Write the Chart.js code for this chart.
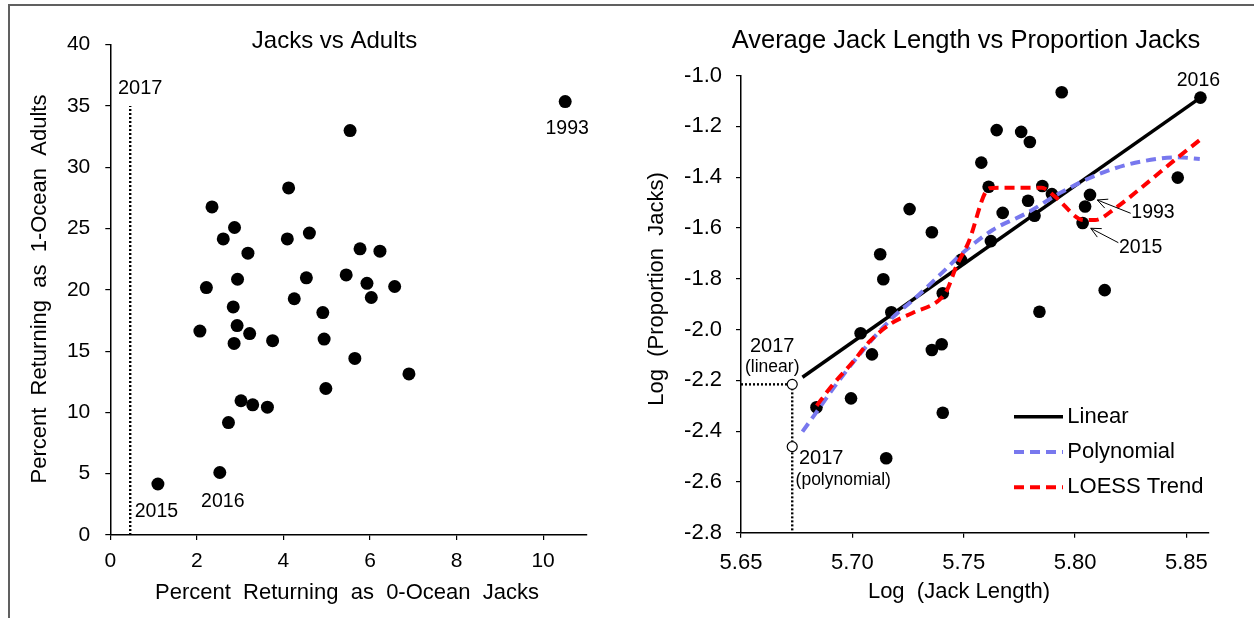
<!DOCTYPE html>
<html>
<head>
<meta charset="utf-8">
<script src="https://cdn.jsdelivr.net/npm/chart.js@4.4.1/dist/chart.umd.min.js"></script>
<style>
  html, body { margin: 0; padding: 0; background: #fff; }
  #wrap { position: relative; width: 1254px; height: 618px; overflow: hidden; }
  #frame { position: absolute; left: 8px; top: 4px; width: 1300px; height: 700px;
           border-left: 2px solid #606060; border-top: 2px solid #606060; }
  canvas { position: absolute; top: 0; }
  #cLeft { left: 0; }
  #cRight { left: 627px; }
</style>
</head>
<body>
<div id="wrap">
  <div id="frame"></div>
  <canvas id="cLeft" width="627" height="618"></canvas>
  <canvas id="cRight" width="627" height="618"></canvas>
</div>
<script>
const FONT = "'Liberation Sans', Arial, sans-serif";

// ---- Jacks vs Adults ----
const jackPct  = [10.51, 5.54, 4.12, 2.35, 2.87, 2.61, 4.09, 4.60, 3.18, 5.77, 6.23, 2.22, 2.94, 4.53, 5.45, 5.93, 6.57, 4.25,
                  6.03, 2.84, 4.91, 2.07, 2.93, 3.22, 2.86, 3.75, 4.94, 5.65, 6.90, 4.98, 3.02, 3.29, 3.63, 2.73, 2.53, 1.10];
const adultPct = [35.35, 32.99, 28.31, 26.76, 25.08, 24.15, 24.15, 24.63, 22.99, 23.34, 23.15, 20.18, 20.86, 20.98, 21.21, 20.53, 20.27, 19.27,
                  19.37, 18.60, 18.14, 16.63, 17.08, 16.43, 15.63, 15.85, 15.98, 14.40, 13.14, 11.95, 10.95, 10.62, 10.43, 9.17, 5.10, 4.16];
const leftXTicks = [0, 2, 4, 6, 8, 10];
const leftYTicks = [0, 5, 10, 15, 20, 25, 30, 35, 40];
const jack2017 = 0.46;          // 2017 forecast line
const jack2017Span = [0, 35];
const leftYears = ["1993", "2015", "2016"];
const leftYearIdx = [0, 35, 34];

// ---- Average Jack Length vs Proportion Jacks ----
const logLen  = [5.7257, 5.7357, 5.7125, 5.7139, 5.7488, 5.7406, 5.7940, 5.7648, 5.7758, 5.7797, 5.7579, 5.7612, 5.7853, 5.7896,
                 5.7789, 5.7675, 5.7818, 5.8067, 5.8045, 5.8034, 5.7622, 5.8461, 5.8563, 5.8133, 5.7175, 5.7037, 5.7088, 5.7357,
                 5.7401, 5.6994, 5.6839, 5.7406, 5.7152, 5.7840];
const logProp = [-1.526, -1.617, -1.704, -1.802, -1.726, -1.857, -1.066, -1.215, -1.222, -1.262, -1.343, -1.438, -1.435, -1.467,
                 -1.493, -1.541, -1.552, -1.470, -1.516, -1.581, -1.652, -1.402, -1.087, -1.845, -1.932, -2.015, -2.098, -2.081,
                 -2.058, -2.271, -2.306, -2.328, -2.507, -1.930];
const linX = [5.6776, 5.8563];
const linY = [-2.188, -1.087];
const polyX = [5.6776, 5.684, 5.692, 5.704, 5.7175, 5.728, 5.740, 5.750, 5.763, 5.778, 5.793, 5.808, 5.823, 5.838, 5.846, 5.856];
const polyY = [-2.402, -2.324, -2.225, -2.090, -1.958, -1.878, -1.779, -1.695, -1.608, -1.543, -1.464, -1.398, -1.352, -1.327, -1.322, -1.329];
const loessX = [5.684, 5.690, 5.700, 5.708, 5.7175, 5.727, 5.739, 5.7425, 5.7466, 5.752, 5.7615, 5.766, 5.785, 5.791, 5.804, 5.809, 5.818, 5.830, 5.8465, 5.856];
const loessY = [-2.300, -2.230, -2.130, -2.045, -1.976, -1.935, -1.884, -1.845, -1.753, -1.660, -1.444, -1.442, -1.442, -1.477, -1.569, -1.569, -1.523, -1.440, -1.320, -1.254];
const len2017 = 5.673;
const lin2017 = -2.216;
const poly2017 = -2.461;
const rightXTicks = [5.65, 5.70, 5.75, 5.80, 5.85];
const rightYTicks = [-2.8, -2.6, -2.4, -2.2, -2.0, -1.8, -1.6, -1.4, -1.2, -1.0];
const rightYears = ["2016", "1993", "2015"];
const rightYearIdx = [22, 17, 19];
const legendOrder = ["Linear", "Polynomial", "LOESS Trend"];

const xy = (xs, ys) => xs.map((x, i) => ({ x, y: ys[i] }));

// draws free text, arrows and the legend (config kept in a closure, not in chart options)
function makeNotes(o) {
    return {
        id: "notes",
        afterDraw(chart) {
            const { ctx } = chart;
            const sx = chart.scales.x, sy = chart.scales.y;
            ctx.save();
            ctx.fillStyle = "#000"; ctx.strokeStyle = "#000";
            ctx.textAlign = "center"; ctx.textBaseline = "middle";
            for (const t of o.texts || []) {
                const px = t.at ? sx.getPixelForValue(t.at[0]) + t.dx : t.px;
                const py = t.at ? sy.getPixelForValue(t.at[1]) + t.dy : t.py;
                ctx.font = `${t.size}px ${FONT}`;
                ctx.save(); ctx.translate(px, py); if (t.rot) ctx.rotate(t.rot);
                ctx.fillText(t.text, 0, 0); ctx.restore();
            }
            for (const a of o.arrows || []) {
                const bx = sx.getPixelForValue(a.at[0]), by = sy.getPixelForValue(a.at[1]);
                const x1 = bx + a.tail[0], y1 = by + a.tail[1], x2 = bx + a.head[0], y2 = by + a.head[1];
                const ang = Math.atan2(y2 - y1, x2 - x1);
                ctx.lineWidth = 1;
                ctx.beginPath(); ctx.moveTo(x1, y1); ctx.lineTo(x2, y2);
                for (const s of [-1, 1]) {
                    ctx.moveTo(x2, y2);
                    ctx.lineTo(x2 - 11 * Math.cos(ang + s * 0.45), y2 - 11 * Math.sin(ang + s * 0.45));
                }
                ctx.stroke();
            }
            if (o.legend) {
                const L = o.legend;
                ctx.textAlign = "left";
                ctx.font = `${L.size}px ${FONT}`;
                legendOrder.forEach((name, i) => {
                    const d = chart.data.datasets.find(ds => ds.label === name);
                    const y = L.y + i * L.gap;
                    ctx.save();
                    ctx.strokeStyle = d.borderColor; ctx.lineWidth = d.borderWidth;
                    ctx.setLineDash(d.borderDash || []);
                    ctx.beginPath(); ctx.moveTo(L.x, y); ctx.lineTo(L.x + L.len, y); ctx.stroke();
                    ctx.restore();
                    ctx.fillText(name, L.textX, y);
                });
            }
            ctx.restore();
        }
    };
}

function axis(min, max, ticks, fmt, pad, size, fitKey, fitVal) {
    return {
        type: "linear", min, max,
        afterBuildTicks: s => { s.ticks = ticks.map(v => ({ value: v })); },
        afterFit: s => { s[fitKey] = fitVal; },
        grid: { drawOnChartArea: false, drawTicks: true, tickLength: 5, color: "#000", lineWidth: 1.2 },
        border: { display: true, color: "#000", width: 1.5 },
        ticks: { color: "#000", font: { family: FONT, size }, padding: pad, callback: fmt, maxRotation: 0, autoSkip: false }
    };
}

const base = {
    responsive: false, animation: false, events: [],
    plugins: { legend: { display: false }, tooltip: { enabled: false } }
};

const dotted = { showLine: true, pointRadius: 0, borderColor: "#000", borderWidth: 2.4, borderDash: [2, 2], order: 5 };

new Chart(document.getElementById("cLeft"), {
    type: "scatter",
    data: {
        datasets: [
            { data: xy(jackPct, adultPct), pointRadius: 6.5, backgroundColor: "#000", borderColor: "#000", borderWidth: 0, clip: false, order: 1 },
            { ...dotted, data: xy([jack2017, jack2017], jack2017Span) }
        ]
    },
    options: {
        ...base,
        layout: { padding: { top: 44.6, right: 40.6, bottom: 0, left: 0 } },
        scales: {
            x: axis(0, 11, leftXTicks, v => v, 9, 21, "height", 83),
            y: axis(0, 40, leftYTicks, v => v, 15, 21, "width", 110.3)
        }
    },
    plugins: [makeNotes({
        texts: [
            { px: 334.5, py: 41.5, size: 24, text: "Jacks vs Adults" },
            { px: 347, py: 593, size: 22, text: "Percent  Returning  as  0-Ocean  Jacks" },
            { px: 39.5, py: 289, size: 22, rot: -Math.PI / 2, text: "Percent  Returning  as  1-Ocean  Adults" },
            { at: [jack2017, jack2017Span[1]], dx: 10, dy: -17, size: 20, text: "2017" },
            { at: [jackPct[leftYearIdx[0]], adultPct[leftYearIdx[0]]], dx: 2, dy: 27, size: 19.5, text: leftYears[0] },
            { at: [jackPct[leftYearIdx[1]], adultPct[leftYearIdx[1]]], dx: -1.5, dy: 28, size: 19.5, text: leftYears[1] },
            { at: [jackPct[leftYearIdx[2]], adultPct[leftYearIdx[2]]], dx: 3, dy: 29.5, size: 19.5, text: leftYears[2] }
        ]
    })]
});

new Chart(document.getElementById("cRight"), {
    type: "scatter",
    data: {
        datasets: [
            { label: "2017", data: [{ x: len2017, y: lin2017 }, { x: len2017, y: poly2017 }], pointRadius: 5,
              backgroundColor: "#fff", borderColor: "#000", borderWidth: 1.2, clip: false, order: 0 },
            { label: "LOESS Trend", data: xy(loessX, loessY), showLine: true, pointRadius: 0,
              borderColor: "#ff0000", borderWidth: 4, borderDash: [10, 6], cubicInterpolationMode: "monotone", order: 1 },
            { label: "Polynomial", data: xy(polyX, polyY), showLine: true, pointRadius: 0,
              borderColor: "#7878ee", borderWidth: 4, borderDash: [10, 6], cubicInterpolationMode: "monotone", order: 2 },
            { label: "Linear", data: xy(linX, linY), showLine: true, pointRadius: 0,
              borderColor: "#000", borderWidth: 3.5, order: 3 },
            { data: xy(logLen, logProp), pointRadius: 6.3, backgroundColor: "#000", borderColor: "#000", borderWidth: 0, clip: false, order: 4 },
            { ...dotted, data: [{ x: 5.65, y: lin2017 }, { x: len2017, y: lin2017 }] },
            { ...dotted, data: [{ x: len2017, y: lin2017 }, { x: len2017, y: -2.8 }] }
        ]
    },
    options: {
        ...base,
        layout: { padding: { top: 75.5, right: 45.3, bottom: 0, left: 0 } },
        scales: {
            x: axis(5.65, 5.86, rightXTicks, v => v.toFixed(2), 12, 22, "height", 85.3),
            y: axis(-2.8, -1.0, rightYTicks, v => v.toFixed(1), 14, 22, "width", 114)
        }
    },
    plugins: [makeNotes({
        texts: [
            { px: 339, py: 41, size: 25.5, text: "Average Jack Length vs Proportion Jacks" },
            { px: 332, py: 592, size: 22, text: "Log  (Jack Length)" },
            { px: 30, py: 289, size: 22, rot: -Math.PI / 2, text: "Log  (Proportion  Jacks)" },
            { at: [logLen[rightYearIdx[0]], logProp[rightYearIdx[0]]], dx: -2, dy: -17, size: 19.5, text: rightYears[0] },
            { at: [logLen[rightYearIdx[1]], logProp[rightYearIdx[1]]], dx: 63, dy: 18, size: 19.5, text: rightYears[1] },
            { at: [logLen[rightYearIdx[2]], logProp[rightYearIdx[2]]], dx: 58, dy: 25, size: 19.5, text: rightYears[2] },
            { at: [len2017, lin2017], dx: -20, dy: -38, size: 20, text: "2017" },
            { at: [len2017, lin2017], dx: -20, dy: -17.5, size: 17.5, text: "(linear)" },
            { at: [len2017, poly2017], dx: 29, dy: 12, size: 20, text: "2017" },
            { at: [len2017, poly2017], dx: 51, dy: 33.5, size: 17.5, text: "(polynomial)" }
        ],
        arrows: [
            { at: [logLen[rightYearIdx[1]], logProp[rightYearIdx[1]]], tail: [40.7, 18.4], head: [7.3, 5.1] },
            { at: [logLen[rightYearIdx[2]], logProp[rightYearIdx[2]]], tail: [35.7, 19.6], head: [8.1, 5.2] }
        ],
        legend: { x: 387, y: 416.7, gap: 35.3, len: 49, textX: 440.3, size: 22 }
    })]
});
</script>
</body>
</html>
